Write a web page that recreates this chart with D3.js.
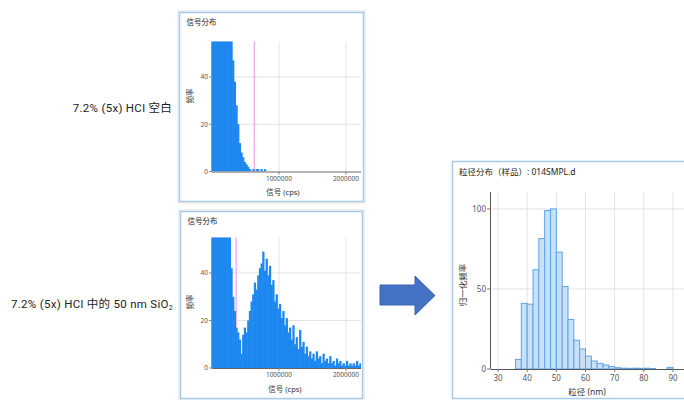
<!DOCTYPE html>
<html>
<head>
<meta charset="utf-8">
<script src="https://cdn.jsdelivr.net/npm/d3@7"></script>
<style>
  body { margin: 0; background: #fff; }
  svg { display: block; }
  text { font-family: "Noto Sans", "Noto Sans CJK SC", sans-serif; }
</style>
</head>
<body>
<div id="chart"></div>
<script>
// signal histograms, 25000 cps bins starting at 0
const binWidth = 25000;
const blankCounts = [520, 480, 440, 400, 360, 320, 270, 220, 170, 130, 95, 62,
    47, 38, 28, 20, 12, 8, 6, 4, 3, 2, 1, 0, 1, 0, 1, 1, 0, 1, 0, 1];
const sampleCounts = [420, 390, 360, 330, 290, 250, 200, 150, 110, 75, 56, 42,
    30, 24, 17, 15, 12, 6, 14, 17, 15, 20, 24, 28, 31, 36, 33, 39, 42, 44,
    49, 41, 46, 39, 43, 35, 37, 28, 31, 25, 27, 21, 24, 18, 21, 15, 17, 12,
    18, 10, 13, 8, 16, 9, 11, 6, 9, 5, 7, 4, 6, 3, 7, 4, 5, 2, 6, 3,
    4, 2, 5, 2, 3, 1, 4, 2, 3, 1, 2, 1, 3, 1, 2, 1, 2, 1, 3, 1, 2];
const blankThreshold = 630000;
const sampleThreshold = 360000;
const signalTicks = [1000000, 2000000];
const countTicks = [0, 20, 40];

// particle size distribution, 2 nm bins
const sizeBins = [36, 38, 40, 42, 44, 46, 48, 50, 52, 54, 56, 58, 60, 62, 64,
    66, 68, 70, 72, 74, 76, 78, 80, 82, 84, 86, 88];
const sizeFreq = [6, 41, 40.5, 62, 81.5, 99, 100, 73, 51.5, 31, 18, 12.5, 8, 5,
    3.5, 2.5, 1.5, 0.8, 0.5, 0.4, 0.5, 0.4, 0.5, 0.3, 0, 0, 1];
const sizeTicks = [30, 40, 50, 60, 70, 80, 90];
const freqTicks = [0, 50, 100];

const svg = d3.select("#chart").append("svg")
    .attr("width", 684)
    .attr("height", 400);

svg.append("rect").attr("width", 684).attr("height", 400).attr("fill", "#fff");

function signalPanel(cfg) {
    const g = svg.append("g");

    g.append("rect")
        .attr("x", cfg.frame[0] - 1.5).attr("y", cfg.frame[1] - 1.5)
        .attr("width", cfg.frame[2] + 3).attr("height", cfg.frame[3] + 3)
        .attr("fill", "none")
        .attr("stroke", "#e2e2e2");
    g.append("rect")
        .attr("x", cfg.frame[0]).attr("y", cfg.frame[1])
        .attr("width", cfg.frame[2]).attr("height", cfg.frame[3])
        .attr("fill", "#fff")
        .attr("stroke", "#a9cbe9")
        .attr("stroke-width", 1.5);

    g.append("text")
        .attr("x", cfg.frame[0] + 7).attr("y", cfg.frame[1] + 12)
        .style("font-size", "7.5px").attr("fill", "#222")
        .text("信号分布");

    const x = d3.scaleLinear().domain([0, 2225000]).range([cfg.x0, cfg.x0 + 149]);
    const y = d3.scaleLinear().domain([0, 55]).range([cfg.y0, cfg.y0 - cfg.h]);

    // grid
    g.selectAll(".hgrid").data(countTicks.filter(d => d > 0)).enter()
        .append("line")
        .attr("x1", x.range()[0]).attr("x2", x.range()[1])
        .attr("y1", d => y(d)).attr("y2", d => y(d))
        .attr("stroke", "#e3e3e3").attr("stroke-width", 1);
    g.selectAll(".vgrid").data(signalTicks).enter()
        .append("line")
        .attr("x1", d => x(d)).attr("x2", d => x(d))
        .attr("y1", y(55)).attr("y2", y(0))
        .attr("stroke", "#e3e3e3").attr("stroke-width", 1);

    g.append("line")
        .attr("x1", x(cfg.threshold)).attr("x2", x(cfg.threshold))
        .attr("y1", y(55)).attr("y2", y(0))
        .attr("stroke", "#f08af0").attr("stroke-width", 1);

    const clipId = "clip" + cfg.id;
    svg.append("clipPath").attr("id", clipId)
        .append("rect")
        .attr("x", x.range()[0]).attr("y", y(55))
        .attr("width", x.range()[1] - x.range()[0]).attr("height", y(0) - y(55));

    const bw = x(binWidth) - x(0);
    g.append("g").attr("clip-path", `url(#${clipId})`)
        .selectAll("rect").data(cfg.counts).enter()
        .append("rect")
        .attr("x", (d, i) => x(i * binWidth))
        .attr("width", bw + 0.6)
        .attr("y", d => y(d))
        .attr("height", d => y(0) - y(d))
        .attr("fill", "#1e88f0");

    // axes
    g.append("line")
        .attr("x1", x.range()[0]).attr("x2", x.range()[1])
        .attr("y1", y(0) + 0.5).attr("y2", y(0) + 0.5)
        .attr("stroke", "#666");
    g.append("line")
        .attr("x1", x.range()[0] - 0.5).attr("x2", x.range()[0] - 0.5)
        .attr("y1", y(55)).attr("y2", y(0))
        .attr("stroke", "#999");

    g.selectAll(".ytick").data(countTicks).enter()
        .append("text")
        .attr("x", x.range()[0] - 4).attr("y", d => y(d) + 2.3)
        .attr("text-anchor", "end")
        .style("font-size", "6.5px").attr("fill", "#555")
        .text(d => d);
    g.selectAll(".ytickm").data(countTicks).enter()
        .append("line")
        .attr("x1", x.range()[0] - 3).attr("x2", x.range()[0])
        .attr("y1", d => y(d)).attr("y2", d => y(d))
        .attr("stroke", "#888");

    g.selectAll(".xtick").data(signalTicks).enter()
        .append("text")
        .attr("x", d => x(d)).attr("y", y(0) + 9)
        .attr("text-anchor", "middle")
        .style("font-size", "6.5px").attr("fill", "#555")
        .text(d => d);
    g.selectAll(".xtickm").data(signalTicks).enter()
        .append("line")
        .attr("x1", d => x(d)).attr("x2", d => x(d))
        .attr("y1", y(0)).attr("y2", y(0) + 3)
        .attr("stroke", "#888");

    g.append("text")
        .attr("x", cfg.xlab[0]).attr("y", cfg.xlab[1])
        .attr("text-anchor", "middle")
        .style("font-size", "7.5px").attr("fill", "#333")
        .text("信号 (cps)");

    g.append("text")
        .attr("transform", `translate(${cfg.ylab[0]},${cfg.ylab[1]}) rotate(-90)`)
        .attr("text-anchor", "middle")
        .style("font-size", "7.5px").attr("fill", "#333")
        .text("频率");
}

signalPanel({
    id: "a", counts: blankCounts, threshold: blankThreshold,
    frame: [179.5, 12.5, 184, 189], x0: 212, y0: 171.5, h: 130,
    xlab: [283, 195], ylab: [193, 96]
});
signalPanel({
    id: "b", counts: sampleCounts, threshold: sampleThreshold,
    frame: [180.5, 211.5, 182, 187], x0: 212, y0: 368, h: 130.6,
    xlab: [285, 392], ylab: [193, 302]
});

// size distribution panel
(function () {
    const g = svg.append("g");
    g.append("rect")
        .attr("x", 452.5).attr("y", 161.5)
        .attr("width", 240).attr("height", 237)
        .attr("fill", "#fff")
        .attr("stroke", "#a9cbe9").attr("stroke-width", 1.5);

    g.append("text")
        .attr("x", 459).attr("y", 174.5)
        .style("font-size", "8.5px").attr("fill", "#222")
        .text("粒径分布（样品）: 014SMPL.d");

    const x = d3.scaleLinear().domain([27.6, 96]).range([491, 690.5]);
    const y = d3.scaleLinear().domain([0, 110.6]).range([369, 192]);

    g.selectAll(".vgrid").data(sizeTicks).enter()
        .append("line")
        .attr("x1", d => x(d)).attr("x2", d => x(d))
        .attr("y1", y(110.6)).attr("y2", y(0))
        .attr("stroke", "#e3e3e3");
    g.selectAll(".hgrid").data(freqTicks.filter(d => d > 0)).enter()
        .append("line")
        .attr("x1", x(27.6)).attr("x2", 690)
        .attr("y1", d => y(d)).attr("y2", d => y(d))
        .attr("stroke", "#e3e3e3");

    g.selectAll(".bar").data(sizeBins).enter()
        .append("rect")
        .attr("x", d => x(d))
        .attr("width", x(2) - x(0))
        .attr("y", (d, i) => y(sizeFreq[i]))
        .attr("height", (d, i) => y(0) - y(sizeFreq[i]))
        .attr("fill", "#c6e1f8")
        .attr("stroke", "#5ea2e6")
        .attr("stroke-width", 1);

    g.append("line")
        .attr("x1", x(27.6)).attr("x2", 690)
        .attr("y1", y(0) + 0.5).attr("y2", y(0) + 0.5)
        .attr("stroke", "#555");
    g.append("line")
        .attr("x1", x(27.6) - 0.5).attr("x2", x(27.6) - 0.5)
        .attr("y1", y(110.6)).attr("y2", y(0))
        .attr("stroke", "#555");

    g.selectAll(".ytick").data(freqTicks).enter()
        .append("text")
        .attr("x", x(27.6) - 5).attr("y", d => y(d) + 2.8)
        .attr("text-anchor", "end")
        .style("font-size", "8px").attr("fill", "#555")
        .text(d => d);
    g.selectAll(".ytickm").data(freqTicks).enter()
        .append("line")
        .attr("x1", x(27.6) - 4).attr("x2", x(27.6))
        .attr("y1", d => y(d)).attr("y2", d => y(d))
        .attr("stroke", "#777");

    g.selectAll(".xtick").data(sizeTicks).enter()
        .append("text")
        .attr("x", d => x(d)).attr("y", y(0) + 11.5)
        .attr("text-anchor", "middle")
        .style("font-size", "8px").attr("fill", "#555")
        .text(d => d);
    g.selectAll(".xtickm").data(sizeTicks).enter()
        .append("line")
        .attr("x1", d => x(d)).attr("x2", d => x(d))
        .attr("y1", y(0)).attr("y2", y(0) + 3)
        .attr("stroke", "#777");

    g.append("text")
        .attr("x", 587).attr("y", 395)
        .attr("text-anchor", "middle")
        .style("font-size", "8.5px").attr("fill", "#333")
        .text("粒径 (nm)");

    g.append("text")
        .attr("transform", "translate(466,285) rotate(-90)")
        .attr("text-anchor", "middle")
        .style("font-size", "8.5px").attr("fill", "#333")
        .text("归一化频率");
})();

// arrow
svg.append("path")
    .attr("d", "M380,285 L415,285 L415,276 L435,295.5 L415,315 L415,305 L380,305 Z")
    .attr("fill", "#4472c4")
    .attr("stroke", "#3a64b0")
    .attr("stroke-width", 1);

// row labels
svg.append("text")
    .attr("x", 172).attr("y", 111.5)
    .attr("text-anchor", "end")
    .style("font-family", "Roboto, 'Noto Sans CJK SC', sans-serif")
    .style("font-size", "11.5px").style("letter-spacing", "0.3px")
    .attr("fill", "#222")
    .text("7.2% (5x) HCl 空白");

const lab2 = svg.append("text")
    .attr("x", 173).attr("y", 307.5)
    .attr("text-anchor", "end")
    .style("font-family", "Roboto, 'Noto Sans CJK SC', sans-serif")
    .style("font-size", "11.5px").style("letter-spacing", "0.3px")
    .attr("fill", "#222");
lab2.append("tspan").text("7.2% (5x) HCl 中的 50 nm SiO");
lab2.append("tspan").attr("dy", 2.5).style("font-size", "7px").text("2");
</script>
</body>
</html>
